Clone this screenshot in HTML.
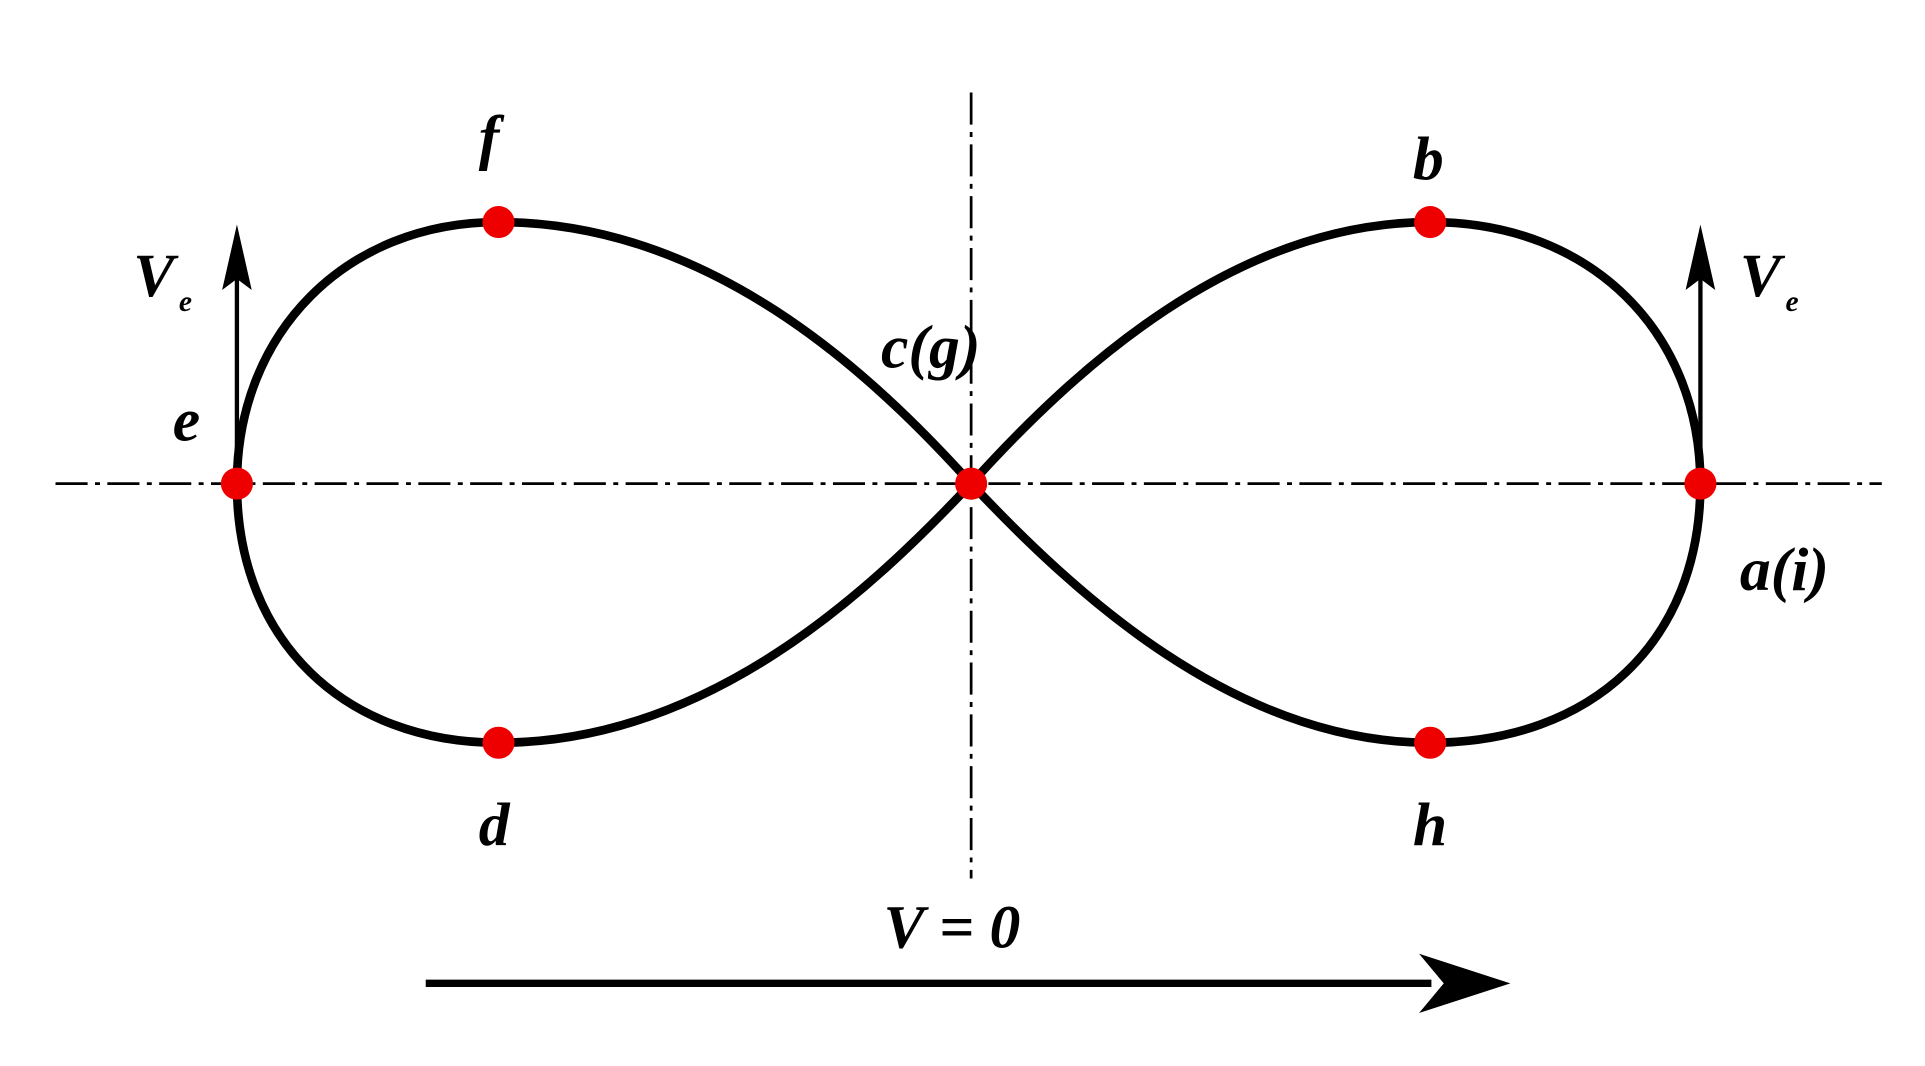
<!DOCTYPE html>
<html><head><meta charset="utf-8"><style>html,body{margin:0;padding:0;background:#fff;}svg{display:block}
text{font-family:"Liberation Serif",serif;font-style:italic;font-weight:bold;fill:#000}</style></head>
<body>
<svg width="1925" height="1066" viewBox="0 0 1560 864" preserveAspectRatio="none" xmlns="http://www.w3.org/2000/svg">
<rect width="1560" height="864" fill="#fff"/>
<g stroke="#000" stroke-width="2.2" stroke-dasharray="26,6,4,6" fill="none">
<line x1="45" y1="392" x2="1525" y2="392"/>
<line x1="787" y1="75" x2="787" y2="712"/>
</g>
<path d="M787,392 C870,300 1000,180 1159,180 C1290,180 1378,270 1378,392 C1378,520 1290,602 1159,602 C1000,602 870,480 787,392 C704,300 574,180 404,180 C280,180 192,270 192,392 C192,520 280,602 404,602 C574,602 704,480 787,392 Z" fill="none" stroke="#000" stroke-width="7"/>
<g stroke="#000" stroke-width="3.5">
<line x1="192" y1="392" x2="192" y2="225"/>
<line x1="1378" y1="392" x2="1378" y2="225"/>
<line x1="345" y1="797" x2="1160" y2="797" stroke-width="6"/>
</g>
<polygon points="192,182 180,235 192,226 204,235" fill="#000"/>
<polygon points="1378,182 1366,235 1378,226 1390,235" fill="#000"/>
<polygon points="1224,797 1150,773 1170,797 1150,821" fill="#000"/>
<g fill="#e00">
<circle cx="787" cy="392" r="13"/><circle cx="192" cy="392" r="13"/><circle cx="1378" cy="392" r="13"/>
<circle cx="404" cy="180" r="13"/><circle cx="404" cy="602" r="13"/><circle cx="1159" cy="180" r="13"/><circle cx="1159" cy="602" r="13"/>
</g>
<g font-size="50">
<text x="388" y="128">f</text>
<text x="1145" y="145">b</text>
<text x="714" y="298">c(g)</text>
<text x="140" y="357">e</text>
<text x="108" y="240">V</text><text x="145" y="252" font-size="24">e</text>
<text x="1410" y="240">V</text><text x="1447" y="252" font-size="24">e</text>
<text x="1410" y="478">a(i)</text>
<text x="388" y="685">d</text>
<text x="1145" y="685">h</text>
<text x="716" y="768">V = 0</text>
</g>
</svg>
</body></html>
